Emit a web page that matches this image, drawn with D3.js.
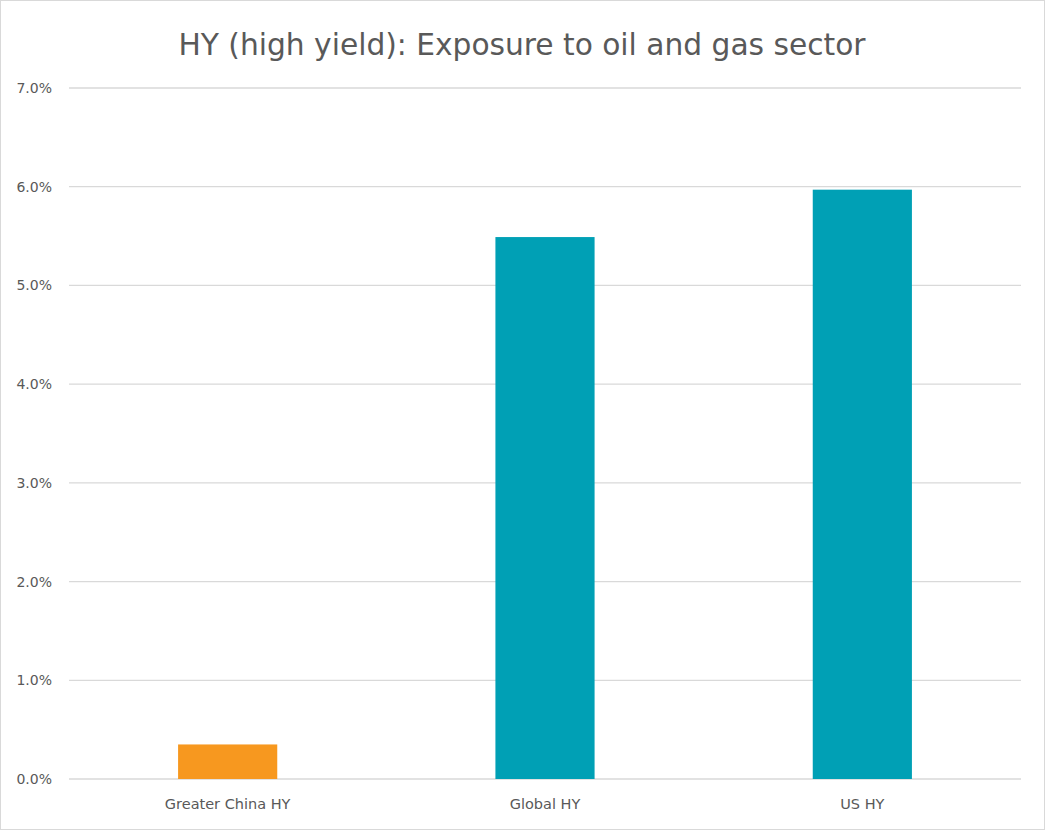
<!DOCTYPE html>
<html><head><meta charset="utf-8">
<script src="https://cdn.jsdelivr.net/npm/d3@7"></script>
<style>body{margin:0;background:#fff}svg{display:block}</style>
</head><body>
<script>
const categories = ["Greater China HY", "Global HY", "US HY"];
const values = [0.0035, 0.0549, 0.0597];
const barColors = ["#F7981F", "#00A0B5", "#00A0B5"];
const yTicks = [0, 0.01, 0.02, 0.03, 0.04, 0.05, 0.06, 0.07];
const title = "HY (high yield): Exposure to oil and gas sector";

const W = 1045, H = 830;
const m = {left: 69, right: 24, top: 88, bottom: 51};
const svg = d3.select("body").append("svg").attr("width", W).attr("height", H);
svg.append("rect").attr("x", 0.5).attr("y", 0.5).attr("width", W - 1).attr("height", H - 1)
  .attr("fill", "#fff").attr("stroke", "#d9d9d9");

const x = d3.scaleBand().domain(categories).range([m.left, W - m.right]).paddingInner(0.6875).paddingOuter(0.34375);
const y = d3.scaleLinear().domain([0, 0.07]).range([H - m.bottom, m.top]);

const font = "'DejaVu Sans', sans-serif";
const condensed = "'DejaVu Sans Condensed', 'DejaVu Sans', sans-serif";

svg.append("g").selectAll("line").data(yTicks).join("line")
  .attr("x1", m.left).attr("x2", W - m.right)
  .attr("y1", d => y(d)).attr("y2", d => y(d))
  .attr("stroke", "#d9d9d9").attr("stroke-width", 1.3);

svg.append("g").selectAll("text").data(yTicks).join("text")
  .attr("x", 52).attr("y", d => y(d) + 5)
  .attr("text-anchor", "end").attr("font-family", font).attr("font-size", 14)
  .attr("fill", "#595959").text(d => d3.format(".1%")(d));

svg.append("g").selectAll("rect").data(values).join("rect")
  .attr("x", (d, i) => x(categories[i])).attr("width", x.bandwidth())
  .attr("y", d => y(d)).attr("height", d => y(0) - y(d))
  .attr("fill", (d, i) => barColors[i]);

svg.append("g").selectAll("text").data(categories).join("text")
  .attr("x", d => x(d) + x.bandwidth() / 2).attr("y", H - m.bottom + 30)
  .attr("text-anchor", "middle").attr("font-family", font).attr("font-size", 14.5)
  .attr("fill", "#595959").text(d => d);

svg.append("text").attr("x", 522).attr("y", 55).attr("text-anchor", "middle")
  .attr("font-family", condensed).attr("font-size", 31)
  .attr("textLength", 687).attr("lengthAdjust", "spacingAndGlyphs")
  .attr("fill", "#595959").text(title);
</script>
</body></html>
